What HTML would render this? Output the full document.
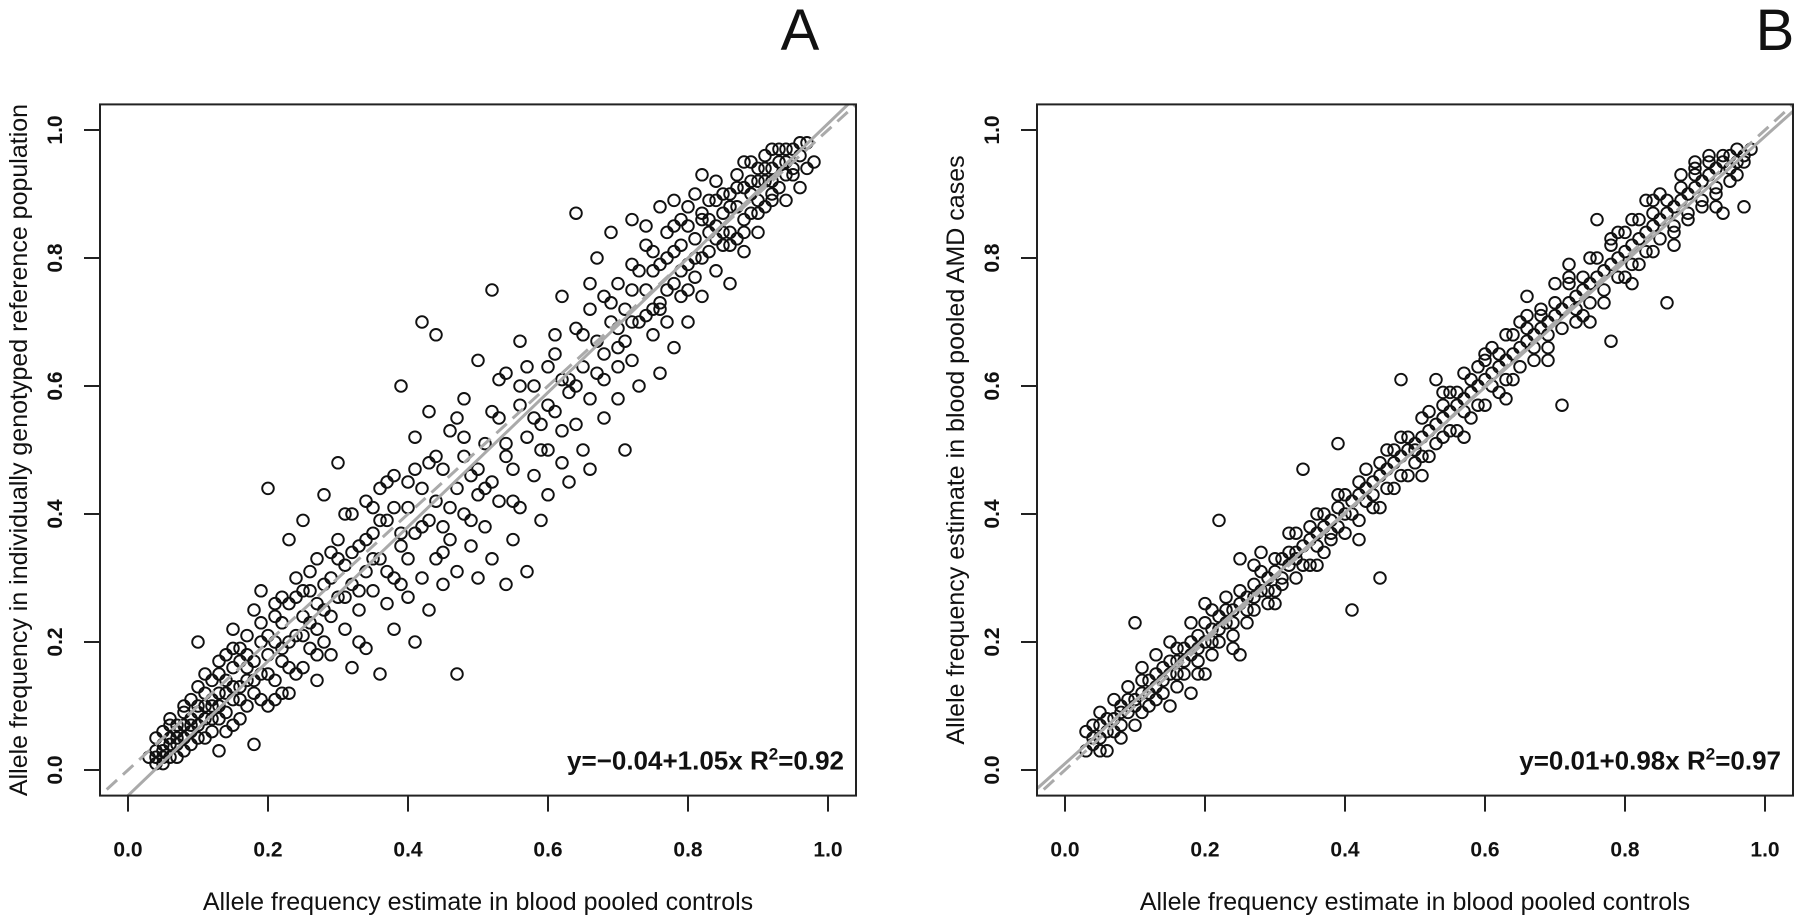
<!DOCTYPE html>
<html><head><meta charset="utf-8">
<style>
html,body{margin:0;padding:0;background:#fff;}
svg{display:block;font-family:"Liberation Sans",Arial,sans-serif;}
</style></head>
<body>
<svg id="fig" width="1800" height="922" viewBox="0 0 1800 922"></svg>
<script>
const ticks=[0,0.2,0.4,0.6,0.8,1.0];
const tickLabels=["0.0","0.2","0.4","0.6","0.8","1.0"];
const xA=[0.03,0.04,0.04,0.05,0.05,0.06,0.06,0.07,0.07,0.08,0.08,0.09,0.09,0.10,0.10,0.10,0.11,0.11,0.12,0.12,0.13,0.13,0.13,0.14,0.14,0.15,0.15,0.15,0.16,0.16,0.17,0.17,0.18,0.18,0.18,0.19,0.19,0.20,0.20,0.20,0.21,0.21,0.22,0.22,0.23,0.23,0.23,0.24,0.24,0.25,0.25,0.25,0.26,0.26,0.27,0.27,0.27,0.28,0.28,0.29,0.29,0.30,0.30,0.30,0.31,0.31,0.32,0.32,0.32,0.33,0.33,0.34,0.34,0.34,0.35,0.35,0.36,0.36,0.36,0.37,0.37,0.38,0.38,0.38,0.39,0.39,0.40,0.40,0.40,0.41,0.41,0.41,0.42,0.42,0.42,0.43,0.43,0.43,0.44,0.44,0.44,0.45,0.45,0.45,0.46,0.46,0.47,0.47,0.47,0.48,0.48,0.48,0.49,0.49,0.50,0.50,0.50,0.51,0.51,0.52,0.52,0.52,0.53,0.53,0.54,0.54,0.54,0.55,0.55,0.56,0.56,0.56,0.57,0.57,0.58,0.58,0.59,0.59,0.60,0.60,0.60,0.61,0.61,0.62,0.62,0.62,0.63,0.63,0.64,0.64,0.64,0.65,0.65,0.66,0.66,0.66,0.67,0.67,0.68,0.68,0.68,0.69,0.69,0.70,0.70,0.70,0.71,0.71,0.72,0.72,0.72,0.73,0.73,0.74,0.74,0.75,0.75,0.76,0.76,0.76,0.77,0.77,0.78,0.78,0.78,0.79,0.79,0.80,0.80,0.80,0.81,0.81,0.82,0.82,0.82,0.83,0.83,0.84,0.84,0.84,0.85,0.85,0.86,0.86,0.86,0.87,0.87,0.88,0.88,0.88,0.89,0.89,0.90,0.90,0.90,0.91,0.91,0.92,0.92,0.93,0.93,0.94,0.94,0.95,0.95,0.96,0.96,0.97,0.97,0.98,
0.04,0.05,0.06,0.07,0.08,0.09,0.10,0.11,0.12,0.13,0.14,0.15,0.16,0.17,0.19,0.21,0.22,0.24,0.26,0.28,0.85,0.87,0.89,0.91,0.92,0.83,0.81,0.79,0.77,0.75];
const yA=[0.02,0.01,0.05,0.03,0.06,0.02,0.08,0.04,0.07,0.05,0.09,0.06,0.11,0.07,0.13,0.20,0.08,0.15,0.10,0.06,0.12,0.03,0.17,0.09,0.14,0.11,0.19,0.22,0.13,0.08,0.16,0.21,0.12,0.04,0.25,0.15,0.28,0.18,0.44,0.10,0.20,0.14,0.23,0.17,0.26,0.12,0.36,0.21,0.30,0.16,0.24,0.39,0.19,0.28,0.22,0.33,0.14,0.25,0.43,0.18,0.30,0.27,0.36,0.48,0.22,0.32,0.16,0.29,0.40,0.25,0.35,0.31,0.19,0.42,0.28,0.37,0.15,0.33,0.44,0.26,0.39,0.30,0.46,0.22,0.35,0.60,0.33,0.41,0.27,0.20,0.37,0.52,0.44,0.30,0.70,0.39,0.56,0.25,0.68,0.42,0.33,0.47,0.29,0.38,0.53,0.36,0.44,0.15,0.31,0.49,0.40,0.58,0.35,0.46,0.43,0.64,0.30,0.51,0.38,0.75,0.45,0.33,0.55,0.42,0.49,0.29,0.62,0.47,0.36,0.57,0.41,0.67,0.52,0.31,0.60,0.46,0.54,0.39,0.63,0.50,0.43,0.68,0.56,0.74,0.48,0.61,0.59,0.45,0.69,0.54,0.87,0.63,0.50,0.72,0.58,0.47,0.67,0.80,0.61,0.74,0.55,0.70,0.84,0.66,0.58,0.76,0.72,0.50,0.79,0.64,0.86,0.70,0.60,0.75,0.82,0.68,0.78,0.73,0.88,0.62,0.80,0.70,0.76,0.85,0.66,0.82,0.74,0.79,0.88,0.70,0.83,0.77,0.86,0.93,0.74,0.81,0.89,0.85,0.78,0.92,0.87,0.82,0.90,0.84,0.76,0.88,0.93,0.86,0.91,0.81,0.92,0.87,0.94,0.89,0.84,0.92,0.96,0.90,0.94,0.97,0.91,0.95,0.89,0.97,0.93,0.96,0.91,0.98,0.94,0.95,
0.03,0.01,0.05,0.02,0.07,0.04,0.10,0.05,0.14,0.08,0.18,0.07,0.17,0.10,0.20,0.26,0.12,0.15,0.23,0.20,0.90,0.83,0.95,0.88,0.97,0.84,0.90,0.86,0.75,0.72];
const moreA=[[0.05,0.04],[0.06,0.07],[0.07,0.06],[0.08,0.10],[0.09,0.08],[0.10,0.09],[0.11,0.12],[0.12,0.08],[0.13,0.15],[0.14,0.12],[0.15,0.16],[0.16,0.19],[0.17,0.14],[0.18,0.17],[0.19,0.23],[0.20,0.15],[0.21,0.24],[0.22,0.19],[0.23,0.20],[0.24,0.27],[0.25,0.21],[0.26,0.31],[0.27,0.26],[0.28,0.29],[0.29,0.24],[0.30,0.33],[0.31,0.27],[0.32,0.34],[0.33,0.28],[0.34,0.36],[0.35,0.33],[0.36,0.39],[0.37,0.31],[0.38,0.41],[0.39,0.37],[0.40,0.45],[0.42,0.38],[0.44,0.49],[0.46,0.41],[0.48,0.52],[0.50,0.47],[0.52,0.56],[0.54,0.51],[0.56,0.60],[0.58,0.55],[0.60,0.57],[0.61,0.65],[0.63,0.61],[0.65,0.68],[0.67,0.62],[0.69,0.73],[0.70,0.69],[0.71,0.67],[0.72,0.75],[0.73,0.78],[0.74,0.71],[0.75,0.81],[0.76,0.79],[0.77,0.84],[0.78,0.81],[0.79,0.78],[0.80,0.85],[0.81,0.80],[0.82,0.87],[0.83,0.86],[0.84,0.83],[0.85,0.84],[0.86,0.88],[0.87,0.91],[0.88,0.84],[0.89,0.90],[0.90,0.92],[0.91,0.94],[0.92,0.89],[0.93,0.95],[0.94,0.93],[0.95,0.94],[0.96,0.98],
[0.04,0.02],[0.05,0.02],[0.06,0.04],[0.07,0.05],[0.08,0.03],[0.09,0.07],[0.10,0.05],[0.11,0.10],[0.12,0.11],[0.13,0.10],[0.14,0.06],[0.15,0.13],[0.16,0.11],[0.17,0.18],[0.18,0.14],[0.19,0.11],[0.20,0.21],[0.21,0.11],[0.22,0.27],[0.23,0.16],[0.25,0.28],[0.27,0.18],[0.29,0.34],[0.31,0.40],[0.33,0.20],[0.35,0.41],[0.37,0.45],[0.39,0.29],[0.41,0.47],[0.43,0.48],[0.45,0.34],[0.47,0.55],[0.49,0.39],[0.51,0.44],[0.53,0.61],[0.55,0.42],[0.57,0.63],[0.59,0.50],[0.62,0.53],[0.64,0.60],[0.66,0.76],[0.68,0.65],[0.70,0.63],[0.72,0.70],[0.74,0.85],[0.76,0.72],[0.78,0.89],[0.80,0.75],[0.82,0.80],[0.84,0.89],[0.86,0.82],[0.88,0.95],[0.90,0.87],[0.92,0.92],[0.94,0.97]];
const xB=[0.03,0.03,0.04,0.04,0.05,0.05,0.06,0.06,0.07,0.07,0.08,0.08,0.09,0.09,0.10,0.10,0.10,0.11,0.11,0.12,0.12,0.13,0.13,0.14,0.14,0.15,0.15,0.15,0.16,0.16,0.17,0.17,0.18,0.18,0.18,0.19,0.19,0.20,0.20,0.20,0.21,0.21,0.22,0.22,0.22,0.23,0.23,0.24,0.24,0.25,0.25,0.25,0.26,0.26,0.27,0.27,0.28,0.28,0.29,0.29,0.30,0.30,0.31,0.31,0.32,0.32,0.33,0.33,0.34,0.34,0.35,0.35,0.36,0.36,0.37,0.37,0.38,0.38,0.39,0.39,0.40,0.40,0.41,0.41,0.42,0.42,0.43,0.43,0.44,0.44,0.45,0.45,0.46,0.46,0.47,0.47,0.48,0.48,0.49,0.49,0.50,0.50,0.51,0.51,0.52,0.52,0.53,0.53,0.54,0.54,0.55,0.55,0.56,0.56,0.57,0.57,0.58,0.58,0.59,0.59,0.60,0.60,0.61,0.61,0.62,0.62,0.63,0.63,0.64,0.64,0.65,0.65,0.66,0.66,0.67,0.67,0.68,0.68,0.69,0.69,0.70,0.70,0.71,0.71,0.72,0.72,0.73,0.73,0.74,0.74,0.75,0.75,0.76,0.76,0.77,0.77,0.78,0.78,0.79,0.79,0.80,0.80,0.81,0.81,0.82,0.82,0.83,0.83,0.84,0.84,0.85,0.85,0.86,0.86,0.87,0.87,0.88,0.88,0.89,0.89,0.90,0.90,0.91,0.91,0.92,0.92,0.93,0.93,0.94,0.94,0.95,0.95,0.96,0.96,0.97,0.97,0.98];
const yB=[0.03,0.06,0.04,0.07,0.05,0.09,0.06,0.03,0.08,0.11,0.07,0.10,0.09,0.13,0.11,0.07,0.23,0.12,0.16,0.10,0.14,0.13,0.18,0.12,0.16,0.15,0.20,0.10,0.17,0.13,0.19,0.15,0.18,0.23,0.12,0.21,0.17,0.20,0.26,0.15,0.22,0.18,0.24,0.39,0.20,0.23,0.27,0.25,0.21,0.26,0.33,0.18,0.27,0.23,0.29,0.25,0.28,0.34,0.30,0.26,0.31,0.28,0.33,0.29,0.32,0.37,0.34,0.30,0.35,0.47,0.36,0.32,0.37,0.40,0.38,0.34,0.39,0.36,0.41,0.51,0.40,0.37,0.42,0.25,0.43,0.39,0.44,0.47,0.45,0.41,0.46,0.30,0.47,0.50,0.48,0.44,0.49,0.61,0.50,0.46,0.51,0.48,0.52,0.55,0.53,0.49,0.54,0.61,0.55,0.52,0.56,0.59,0.57,0.53,0.58,0.62,0.59,0.55,0.60,0.63,0.61,0.57,0.62,0.66,0.63,0.59,0.64,0.68,0.65,0.61,0.66,0.70,0.67,0.74,0.68,0.64,0.69,0.72,0.70,0.66,0.71,0.76,0.72,0.57,0.73,0.79,0.74,0.70,0.75,0.71,0.76,0.80,0.77,0.86,0.78,0.73,0.79,0.67,0.80,0.84,0.81,0.77,0.82,0.86,0.83,0.79,0.84,0.89,0.85,0.81,0.86,0.90,0.87,0.73,0.88,0.84,0.89,0.93,0.90,0.86,0.91,0.94,0.92,0.88,0.93,0.96,0.94,0.90,0.95,0.87,0.96,0.92,0.97,0.93,0.95,0.88,0.97];
const moreB=[[0.04,0.05],[0.05,0.07],[0.06,0.08],[0.07,0.06],[0.08,0.09],[0.09,0.11],[0.10,0.10],[0.11,0.14],[0.12,0.12],[0.13,0.15],[0.14,0.14],[0.15,0.17],[0.16,0.15],[0.17,0.17],[0.18,0.20],[0.19,0.19],[0.20,0.23],[0.21,0.20],[0.22,0.22],[0.23,0.25],[0.24,0.23],[0.25,0.28],[0.26,0.25],[0.27,0.27],[0.28,0.31],[0.29,0.28],[0.30,0.33],[0.31,0.30],[0.32,0.34],[0.33,0.33],[0.34,0.32],[0.35,0.38],[0.36,0.35],[0.37,0.40],[0.38,0.37],[0.39,0.38],[0.40,0.43],[0.41,0.40],[0.42,0.45],[0.43,0.42],[0.44,0.43],[0.45,0.48],[0.46,0.44],[0.47,0.50],[0.48,0.46],[0.49,0.52],[0.50,0.50],[0.51,0.49],[0.52,0.56],[0.53,0.51],[0.54,0.57],[0.55,0.53],[0.56,0.59],[0.57,0.56],[0.58,0.61],[0.59,0.57],[0.60,0.64],[0.61,0.60],[0.62,0.65],[0.63,0.61],[0.64,0.68],[0.65,0.63],[0.66,0.69],[0.67,0.66],[0.68,0.71],[0.69,0.68],[0.70,0.73],[0.71,0.69],[0.72,0.76],[0.73,0.72],[0.74,0.77],[0.75,0.73],[0.76,0.80],[0.77,0.75],[0.78,0.82],[0.79,0.77],[0.80,0.84],[0.81,0.79],[0.82,0.86],[0.83,0.81],[0.84,0.87],[0.85,0.83],[0.86,0.89],[0.87,0.85],[0.88,0.91],[0.89,0.87],[0.90,0.93],[0.91,0.89],[0.92,0.95],[0.93,0.91],[0.94,0.96],[0.95,0.94],[0.96,0.95],[0.97,0.96],
[0.05,0.03],[0.08,0.05],[0.11,0.09],[0.13,0.11],[0.16,0.19],[0.19,0.15],[0.21,0.25],[0.24,0.19],[0.27,0.32],[0.30,0.26],[0.33,0.37],[0.36,0.32],[0.39,0.43],[0.42,0.36],[0.45,0.41],[0.48,0.52],[0.51,0.46],[0.54,0.59],[0.57,0.52],[0.60,0.65],[0.63,0.58],[0.66,0.71],[0.69,0.64],[0.72,0.77],[0.75,0.70],[0.78,0.83],[0.81,0.76],[0.84,0.89],[0.87,0.82],[0.90,0.95],[0.93,0.88]];
const fitA=[-0.04,1.05], fitB=[0.01,0.98];

const NS="http://www.w3.org/2000/svg";
const svg=document.getElementById('fig');
function el(tag,attrs,parent){const e=document.createElementNS(NS,tag);for(const k in attrs)e.setAttribute(k,attrs[k]);(parent||svg).appendChild(e);return e;}

function panel(opts){
  const g=el('g',{});
  
  
  const x0=opts.x0, x1=opts.x0+700, yb=770, yt=130;
  const sx=v=>x0+(x1-x0)*v, sy=v=>yb-(yb-yt)*v;
  const L=sx(-0.04),R=sx(1.04),T=sy(1.04),B=sy(-0.04);
  const cid='clip'+opts.letter;
  const cp=el('clipPath',{id:cid},g); el('rect',{x:L,y:T,width:R-L,height:B-T},cp);
  const pts=el('g',{'clip-path':'url(#'+cid+')'},g);
  
  
  const xs=opts.xs.concat(opts.more.map(p=>p[0]));
  const ys=opts.ys.concat(opts.more.map(p=>p[1]));
  for(let i=0;i<xs.length;i++){
    const c=el('circle',{cx:sx(xs[i]),cy:sy(ys[i]),r:5.8,fill:'none',stroke:'#111','stroke-width':1.9},pts);
    
    
  }
  const lines=el('g',{'clip-path':'url(#'+cid+')'},g);
  const d=el('line',{x1:sx(-0.1),y1:sy(-0.1),x2:sx(1.1),y2:sy(1.1),stroke:'#aaa','stroke-width':3,'stroke-dasharray':'14 8'},lines);
  
  
  const f=opts.fit;
  const fl=el('line',{x1:sx(-0.1),y1:sy(f[0]+f[1]*-0.1),x2:sx(1.1),y2:sy(f[0]+f[1]*1.1),stroke:'#aaa','stroke-width':3},lines);
  
  
  const box=el('rect',{x:L,y:T,width:R-L,height:B-T,fill:'none',stroke:'#222','stroke-width':2},g);
  
  
  ticks.forEach((t,i)=>{
    el('line',{x1:sx(t),y1:B,x2:sx(t),y2:B+16,stroke:'#222','stroke-width':2},g);
    const tx=el('text',{x:sx(t),y:B+61,'text-anchor':'middle','font-size':21,'font-weight':'bold',fill:'#111'},g);
    tx.textContent=tickLabels[i];
    
    
    el('line',{x1:L,y1:sy(t),x2:L-16,y2:sy(t),stroke:'#222','stroke-width':2},g);
    const ty=el('text',{x:0,y:0,transform:`translate(${L-38},${sy(t)}) rotate(-90)`,'text-anchor':'middle','font-size':21,'font-weight':'bold',fill:'#111'},g);
    ty.textContent=tickLabels[i];
    
    
  });
  const xt=el('text',{x:(L+R)/2,y:910,'text-anchor':'middle','font-size':25,fill:'#111'},g);
  xt.textContent='Allele frequency estimate in blood pooled controls';
  
  
  const yt2=el('text',{x:0,y:0,transform:`translate(${opts.yTitleX},${(T+B)/2}) rotate(-90)`,'text-anchor':'middle','font-size':25,fill:'#111'},g);
  yt2.textContent=opts.yTitle;
  
  
  const eq=el('text',{x:R-12,y:B-26,'text-anchor':'end','font-size':26,'font-weight':'bold',fill:'#111'},g);
  eq.innerHTML=opts.eq;
  
  
  const lt=el('text',{x:opts.letterX,y:50,'text-anchor':'middle','font-size':58,fill:'#111'},g);
  lt.textContent=opts.letter;
  
  
}
panel({name:'panel-a',letter:'A',letterX:800,x0:128,xs:xA,ys:yA,more:moreA,fit:fitA,yTitleX:27,
  yTitle:'Allele frequency in individually genotyped reference population',
  eq:'y=\u22120.04+1.05x R<tspan dy="-10" font-size="17">2</tspan><tspan dy="10">=0.92</tspan>'});
panel({name:'panel-b',letter:'B',letterX:1775,x0:1065,xs:xB,ys:yB,more:moreB,fit:fitB,yTitleX:964,
  yTitle:'Allele frequency estimate in blood pooled AMD cases',
  eq:'y=0.01+0.98x R<tspan dy="-10" font-size="17">2</tspan><tspan dy="10">=0.97</tspan>'});
</script>
</body></html>
